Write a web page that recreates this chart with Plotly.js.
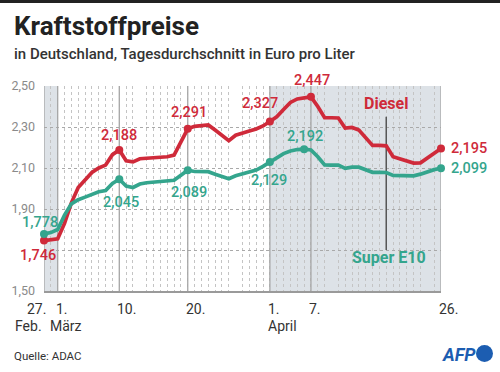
<!DOCTYPE html>
<html>
<head>
<meta charset="utf-8">
<script src="https://cdn.plot.ly/plotly-3.0.1.min.js"></script>
<style>
  html, body { margin: 0; padding: 0; background: #fff; }
  #chart { width: 500px; height: 372px; }
  #topbar { position: absolute; left: 0; top: 0; width: 500px; height: 3px; background: #222; z-index: 5; }
</style>
</head>
<body>
<div id="topbar"></div>
<div id="chart"></div>
<script>
// ---------- data ----------
const dates = [
  '2022-02-27','2022-02-28',
  '2022-03-01','2022-03-02','2022-03-03','2022-03-04','2022-03-05','2022-03-06','2022-03-07','2022-03-08','2022-03-09','2022-03-10',
  '2022-03-11','2022-03-12','2022-03-13','2022-03-14','2022-03-15','2022-03-16','2022-03-17','2022-03-18','2022-03-19','2022-03-20',
  '2022-03-21','2022-03-22','2022-03-23','2022-03-24','2022-03-25','2022-03-26','2022-03-27','2022-03-28','2022-03-29','2022-03-30','2022-03-31',
  '2022-04-01','2022-04-02','2022-04-03','2022-04-04','2022-04-05','2022-04-06','2022-04-07','2022-04-08','2022-04-09','2022-04-10',
  '2022-04-11','2022-04-12','2022-04-13','2022-04-14','2022-04-15','2022-04-16','2022-04-17','2022-04-18','2022-04-19','2022-04-20',
  '2022-04-21','2022-04-22','2022-04-23','2022-04-24','2022-04-25','2022-04-26'
];
const diesel = [
  1.746, 1.750,
  1.755, 1.830, 1.930, 2.005, 2.045, 2.078, 2.100, 2.114, 2.165, 2.188,
  2.135, 2.130, 2.145, 2.148, 2.150, 2.152, 2.155, 2.163, 2.227, 2.291,
  2.303, 2.307, 2.310, 2.285, 2.258, 2.233, 2.260, 2.272, 2.280, 2.290, 2.305,
  2.327, 2.350, 2.385, 2.420, 2.437, 2.440, 2.447, 2.400, 2.345, 2.345,
  2.344, 2.295, 2.298, 2.285, 2.245, 2.210, 2.210, 2.208, 2.155, 2.145,
  2.135, 2.124, 2.125, 2.150, 2.175, 2.195
];
const superE10 = [
  1.778, 1.785,
  1.800, 1.870, 1.925, 1.945, 1.958, 1.972, 1.984, 1.990, 2.025, 2.045,
  2.012, 2.005, 2.022, 2.028, 2.031, 2.034, 2.037, 2.040, 2.065, 2.089,
  2.083, 2.084, 2.082, 2.070, 2.058, 2.048, 2.062, 2.072, 2.078, 2.090, 2.108,
  2.129, 2.152, 2.170, 2.183, 2.190, 2.192, 2.188, 2.155, 2.115, 2.114,
  2.114, 2.098, 2.104, 2.104, 2.090, 2.079, 2.079, 2.078, 2.064, 2.062,
  2.062, 2.062, 2.070, 2.082, 2.092, 2.099
];
const dieselLabelDates = ['2022-02-27','2022-03-10','2022-03-20','2022-04-01','2022-04-07','2022-04-26'];
const e10LabelDates    = ['2022-02-27','2022-03-10','2022-03-20','2022-04-01','2022-04-06','2022-04-26'];

const yTickVals = [1.5, 1.7, 1.9, 2.1, 2.3, 2.5];
const yTickText = ['1,50','','1,90','2,10','2,30','2,50'];

const xTickDates = ['2022-02-27','2022-03-01','2022-03-10','2022-03-20','2022-04-01','2022-04-07','2022-04-26'];
const xTickText  = ['27.','1.','10.','20.','1.','7.','26.'];
const monthDates = ['2022-02-27','2022-03-01','2022-04-01'];
const monthText  = ['Feb.','März','April'];

const bandStarts = ['2022-02-27','2022-04-01'];
const bandEnds   = ['2022-03-01','2022-04-26'];
const markerLineDates = ['2022-02-27','2022-03-01','2022-03-10','2022-03-20','2022-04-01','2022-04-07','2022-04-26'];

const seriesNames = ['Diesel','Super E10'];

// ---------- styles ----------
const RED = '#cf2a3a';
const TEAL = '#34a58d';
const FONT = 'Roboto, "Open Sans", sans-serif';
const L = 44, R = 59, T = 86, B = 81, W = 500, H = 372;
const pw = W - L - R, ph = H - T - B;
const xp = px => (px - L) / pw;
const yp = py => (H - B - py) / ph;

// label offsets (px) for value labels, in order of the label dates
const dieselOffsets = [[-6,-15,'center'],[0,14.5,'center'],[1,16.5,'center'],[-10,18,'center'],[1,16,'center'],[8,0,'left']];
const e10Offsets    = [[-4.5,12,'center'],[1.5,-23.5,'center'],[1,-22,'center'],[-1,-18.5,'center'],[0.5,12.5,'center'],[8,0,'left']];

function valueAt(series, d) { return series[dates.indexOf(d)]; }
function fmt(v) { return v.toFixed(3).replace('.', ','); }

const traces = [
  { x: dates, y: diesel, type: 'scatter', mode: 'lines', name: seriesNames[0],
    line: { color: RED, width: 3.7 }, hoverinfo: 'skip' },
  { x: dates, y: superE10, type: 'scatter', mode: 'lines', name: seriesNames[1],
    line: { color: TEAL, width: 3.7 }, hoverinfo: 'skip' },
  { x: dieselLabelDates, y: dieselLabelDates.map(d => valueAt(diesel, d)), type: 'scatter', mode: 'markers',
    marker: { color: RED, size: 8 }, cliponaxis: false, hoverinfo: 'skip' },
  { x: e10LabelDates, y: e10LabelDates.map(d => valueAt(superE10, d)), type: 'scatter', mode: 'markers',
    marker: { color: TEAL, size: 8 }, cliponaxis: false, hoverinfo: 'skip' }
];

const shapes = [];
bandStarts.forEach((s, i) => shapes.push({
  type: 'rect', xref: 'x', yref: 'y', x0: s, x1: bandEnds[i], y0: yTickVals[0], y1: yTickVals[yTickVals.length - 1],
  fillcolor: '#dde2e7', line: { width: 0 }, layer: 'below'
}));
markerLineDates.forEach(d => shapes.push({
  type: 'line', xref: 'x', yref: 'y', x0: d, x1: d, y0: yTickVals[0], y1: yTickVals[yTickVals.length - 1],
  line: { color: '#a6a6a6', width: 1.3 }, layer: 'between'
}));
// connector between series names
shapes.push({ type: 'line', xref: 'x', yref: 'y', x0: '2022-04-18', x1: '2022-04-18', y0: 2.35, y1: 1.70,
  line: { color: '#555', width: 1.5 }, layer: 'between' });
// AFP dot
shapes.push({ type: 'circle', xref: 'paper', yref: 'paper', x0: xp(476), x1: xp(493), y0: yp(362), y1: yp(345),
  fillcolor: '#1c5db1', line: { width: 0 } });

const annotations = [];
dieselLabelDates.forEach((d, i) => {
  const o = dieselOffsets[i];
  annotations.push({ x: d, y: valueAt(diesel, d), xref: 'x', yref: 'y', text: fmt(valueAt(diesel, d)), showarrow: false,
    xanchor: o[2], yanchor: 'middle', xshift: o[0], yshift: o[1], font: { family: FONT, size: 14.5, weight: 500, color: RED } });
});
e10LabelDates.forEach((d, i) => {
  const o = e10Offsets[i];
  annotations.push({ x: d, y: valueAt(superE10, d), xref: 'x', yref: 'y', text: fmt(valueAt(superE10, d)), showarrow: false,
    xanchor: o[2], yanchor: 'middle', xshift: o[0], yshift: o[1], font: { family: FONT, size: 14.5, weight: 500, color: TEAL } });
});
// series names
annotations.push({ x: '2022-04-18', y: 2.415, xref: 'x', yref: 'y', text: '<b>' + seriesNames[0] + '</b>', showarrow: false,
  xanchor: 'center', yanchor: 'middle', font: { family: FONT, size: 16, color: RED } });
annotations.push({ x: '2022-04-18', y: 1.665, xref: 'x', yref: 'y', xshift: 3, text: '<b>' + seriesNames[1] + '</b>', showarrow: false,
  xanchor: 'center', yanchor: 'middle', font: { family: FONT, size: 16, color: TEAL } });
// x tick labels
xTickDates.forEach((d, i) => {
  annotations.push({ x: d, y: 0, xref: 'x', yref: 'paper', text: xTickText[i], showarrow: false,
    xanchor: i === 0 ? 'right' : 'left', yanchor: 'top', xshift: i === 0 ? 4 : -4, yshift: -8,
    font: { family: FONT, size: 14, color: '#333' } });
});
monthDates.forEach((d, i) => {
  annotations.push({ x: d, y: 0, xref: 'x', yref: 'paper', text: monthText[i], showarrow: false,
    xanchor: i === 0 ? 'right' : 'left', yanchor: 'top', xshift: i === 0 ? 0 : (i === 1 ? -10 : -4), yshift: -25,
    font: { family: FONT, size: 14, color: '#333' } });
});
// title, subtitle, source, logo
annotations.push({ x: xp(12), y: yp(26), xref: 'paper', yref: 'paper', text: '<b>Kraftstoffpreise</b>', showarrow: false,
  xanchor: 'left', yanchor: 'middle', font: { family: FONT, size: 26, color: '#222' } });
annotations.push({ x: xp(12), y: yp(54), xref: 'paper', yref: 'paper', text: 'in Deutschland, Tagesdurchschnitt in Euro pro Liter', showarrow: false,
  xanchor: 'left', yanchor: 'middle', font: { family: FONT, size: 15, weight: 500, color: '#333' } });
annotations.push({ x: xp(12), y: yp(356), xref: 'paper', yref: 'paper', text: 'Quelle: ADAC', showarrow: false,
  xanchor: 'left', yanchor: 'middle', font: { family: FONT, size: 11.5, color: '#333' } });
annotations.push({ x: xp(478), y: yp(354), xref: 'paper', yref: 'paper', text: '<b><i>AFP</i></b>', showarrow: false,
  xanchor: 'right', yanchor: 'middle', font: { family: FONT, size: 18, color: '#1c5db1' } });

const layout = {
  width: W, height: H,
  margin: { l: L, r: R, t: T, b: B, pad: 0 },
  paper_bgcolor: '#fff', plot_bgcolor: 'rgba(0,0,0,0)',
  showlegend: false,
  separators: ',.',
  xaxis: {
    type: 'date', range: [dates[0], dates[dates.length - 1]],
    showgrid: false, zeroline: false, showticklabels: false, ticks: '',
    showline: true, linecolor: '#9a9a9a', linewidth: 1.5,
    minor: { dtick: 86400000, tick0: dates[0], showgrid: true, griddash: 'dot', gridcolor: '#c4c4c4', gridwidth: 1, ticks: '' },
    fixedrange: true
  },
  yaxis: {
    range: [yTickVals[0], yTickVals[yTickVals.length - 1]],
    tickvals: yTickVals, ticktext: yTickText,
    showgrid: true, griddash: 'dot', gridcolor: '#a9a9a9', gridwidth: 1,
    zeroline: false, showline: false, ticks: '', ticklabelstandoff: 8,
    tickfont: { family: FONT, size: 12.5, color: '#8a8a8a' },
    fixedrange: true
  },
  shapes: shapes,
  annotations: annotations
};

Plotly.newPlot('chart', traces, layout, { staticPlot: true, displayModeBar: false });
</script>
</body>
</html>
